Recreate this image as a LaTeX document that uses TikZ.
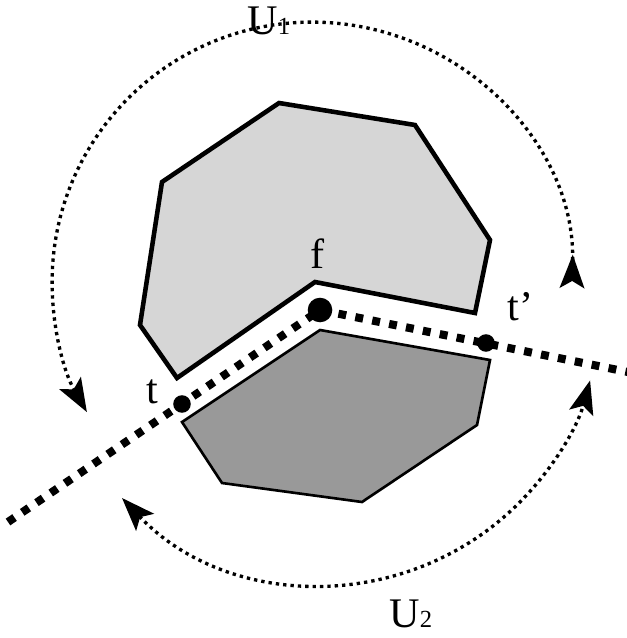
\documentclass[tikz,border=0pt]{standalone}
\usepackage{fontspec}
\setmainfont{Liberation Serif}
\usetikzlibrary{arrows.meta}
\definecolor{lightc}{RGB}{214,214,214}
\definecolor{darkc}{RGB}{153,153,153}

\begin{document}
\begin{tikzpicture}[x=0.02cm, y=-0.02cm,
  upper/.style={draw=black, fill=lightc, line width=2.6pt},
  lower/.style={draw=black, fill=darkc, line width=1.5pt},
  cut/.style={line width=4.6pt, dash pattern=on 4.5pt off 5.3pt},
  orbit/.style={line width=1.9pt, dash pattern=on 1.9pt off 2.3pt},
  arrowhd/.tip={Stealth[length=19pt, width=14pt, inset=4pt]},
  bigdot/.style={circle, fill=black, inner sep=0pt, minimum size=14pt},
  smalldot/.style={circle, fill=black, inner sep=0pt, minimum size=10pt},
  lab/.style={font=\fontsize{24}{28}\selectfont, inner sep=0pt, anchor=base},
]
\useasboundingbox (0,0) rectangle (626,638);

% the two regions
\draw[upper] (279,103) -- (415,125) -- (490,240) -- (475,313) -- (315,282)
  -- (177,378) -- (140,325) -- (162,182) -- cycle;
\draw[lower] (320,330) -- (490,360) -- (477,425) -- (362,502) -- (222,483)
  -- (182,422) -- cycle;

% the cut line through f
\coordinate (cs) at (8,522);
\coordinate (ce) at (628,372);
\node[bigdot] (f) at (320,310) {};
\draw[cut] (cs) -- (f.center) -- (ce);
\node[smalldot] (t) at (182,404) {};
\node[smalldot] (tp) at (486,343) {};

% labels
\node[lab] (flab) at (318,269) {f};
\node[lab] (tlab) at (152,403) {t};
\node[lab, anchor=base west] (tplab) at (507,320) {t’};
\node[lab, anchor=base west] (u1) at (247,35) {U{\fontsize{14}{16}\selectfont 1}};
\node[lab, anchor=base west] (u2) at (389,627) {U{\fontsize{14}{16}\selectfont 2}};

% the two orbits
\coordinate (u1s) at (572,288);
\draw[orbit, {arrowhd[reversed]}-{arrowhd}] (u1s) arc[start angle=1.3, end angle=-210, radius=260];
\coordinate (u2s) at (122,498);
\draw[orbit, {arrowhd}-{arrowhd}] (u2s) arc[start angle=136.5, end angle=15.3, radius=277];

\end{tikzpicture}
\end{document}
